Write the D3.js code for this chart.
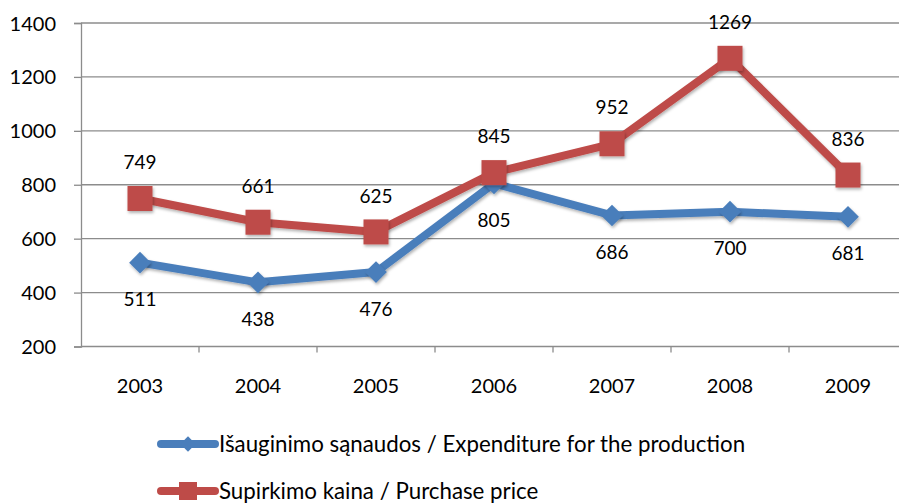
<!DOCTYPE html>
<html>
<head>
<meta charset="utf-8">
<script src="https://cdn.jsdelivr.net/npm/d3@7"></script>
<style>
  body { margin: 0; background: #fff; }
  text { font-family: Lato, "Open Sans", sans-serif; fill: #000; }
</style>
</head>
<body>
<svg id="chart"></svg>
<script>
((() => {

  // chart data
  var years = ["2003", "2004", "2005", "2006", "2007", "2008", "2009"];
  var expenditure = [511, 438, 476, 805, 686, 700, 681];
  var purchase = [749, 661, 625, 845, 952, 1269, 836];
  var yTicks = [200, 400, 600, 800, 1000, 1200, 1400];
  var seriesNames = ["Išauginimo sąnaudos / Expenditure for the production", "Supirkimo kaina / Purchase price"];

  var width = 899, height = 503;
  var left = 81, right = 907, top = 23, bottom = 346.5;

  var svg = d3.select("#chart").attr("width", width).attr("height", height);

  var x = d3.scaleBand().domain(years).range([left, right]);
  var y = d3.scaleLinear().domain([200, 1400]).range([bottom, top]);

  var axisColor = "#8c8c8c";

  // gridlines
  svg.append("g")
    .selectAll("line")
    .data(yTicks.slice(1))
    .enter()
    .append("line")
    .attr("x1", left).attr("x2", width)
    .attr("y1", d => y(d)).attr("y2", d => y(d))
    .attr("stroke", axisColor).attr("stroke-width", 1.3);

  // y axis
  var yAxis = svg.append("g")
    .attr("transform", "translate(" + left + ",0)")
    .call(d3.axisLeft(y).tickValues(yTicks).tickFormat(d3.format("d")).tickSize(7).tickPadding(18));
  yAxis.select(".domain").attr("stroke", axisColor).attr("stroke-width", 1.3);
  yAxis.selectAll(".tick line").attr("stroke", axisColor).attr("stroke-width", 1.3);
  yAxis.selectAll("text").style("font-size", "20px").attr("dy", "0.35em");

  // x axis
  var xAxis = svg.append("g")
    .attr("transform", "translate(0," + bottom + ")")
    .call(d3.axisBottom(x).tickSize(0).tickPadding(32));
  xAxis.select(".domain").remove();
  xAxis.selectAll("text").style("font-size", "20px");
  xAxis.append("line")
    .attr("x1", left).attr("x2", width).attr("y1", 0).attr("y2", 0)
    .attr("stroke", axisColor).attr("stroke-width", 1.3);
  xAxis.selectAll(".sep")
    .data(years.slice(1))
    .enter()
    .append("line")
    .attr("x1", d => x(d)).attr("x2", d => x(d))
    .attr("y1", 0).attr("y2", 6)
    .attr("stroke", axisColor).attr("stroke-width", 1.3);

  var cx = d => x(d) + x.bandwidth() / 2;

  var line = d3.line()
    .x((d, i) => cx(years[i]))
    .y(d => y(d));

  var defs = svg.append("defs");
  var filter = defs.append("filter").attr("id", "shadow")
    .attr("x", "-50%").attr("y", "-50%").attr("width", "200%").attr("height", "200%");
  filter.append("feDropShadow")
    .attr("dx", 1).attr("dy", 2).attr("stdDeviation", 1.5)
    .attr("flood-color", "#000").attr("flood-opacity", 0.3);

  var blue = "#4a7ebb", red = "#be4b48";

  // blue series
  svg.append("path")
    .datum(expenditure)
    .attr("d", line)
    .attr("fill", "none")
    .attr("stroke", blue)
    .attr("stroke-width", 8)
    .attr("stroke-linejoin", "round")
    .attr("filter", "url(#shadow)");

  svg.append("g")
    .selectAll("path")
    .data(expenditure)
    .enter()
    .append("path")
    .attr("d", d3.symbol().type(d3.symbolDiamond2).size(300))
    .attr("transform", (d, i) => "translate(" + cx(years[i]) + "," + y(d) + ")")
    .attr("fill", blue)
    .attr("filter", "url(#shadow)");

  // red series
  svg.append("path")
    .datum(purchase)
    .attr("d", line)
    .attr("fill", "none")
    .attr("stroke", red)
    .attr("stroke-width", 8)
    .attr("stroke-linejoin", "round")
    .attr("filter", "url(#shadow)");

  svg.append("g")
    .selectAll("rect")
    .data(purchase)
    .enter()
    .append("rect")
    .attr("x", (d, i) => cx(years[i]) - 12.5)
    .attr("y", d => y(d) - 12.5)
    .attr("width", 25).attr("height", 25)
    .attr("fill", red)
    .attr("filter", "url(#shadow)");

  // data labels
  svg.append("g")
    .selectAll("text")
    .data(expenditure)
    .enter()
    .append("text")
    .attr("x", (d, i) => cx(years[i]))
    .attr("y", d => y(d) + 37)
    .attr("dy", "0.35em")
    .attr("text-anchor", "middle")
    .style("font-size", "19px")
    .text(d => d);

  svg.append("g")
    .selectAll("text")
    .data(purchase)
    .enter()
    .append("text")
    .attr("x", (d, i) => cx(years[i]))
    .attr("y", d => y(d) - 36)
    .attr("dy", "0.35em")
    .attr("text-anchor", "middle")
    .style("font-size", "19px")
    .text(d => d);

  // legend
  var legend = svg.append("g");
  var legendY = [444, 491];
  var colors = [blue, red];

  legend.selectAll("line")
    .data(seriesNames)
    .enter()
    .append("line")
    .attr("x1", 161).attr("x2", 215)
    .attr("y1", (d, i) => legendY[i]).attr("y2", (d, i) => legendY[i])
    .attr("stroke", (d, i) => colors[i])
    .attr("stroke-width", 8)
    .attr("stroke-linecap", "round");

  legend.append("path")
    .attr("d", d3.symbol().type(d3.symbolDiamond2).size(150))
    .attr("transform", "translate(188," + legendY[0] + ")")
    .attr("fill", blue);
  legend.append("rect")
    .attr("x", 179).attr("y", legendY[1] - 9)
    .attr("width", 18).attr("height", 18)
    .attr("fill", red);

  legend.selectAll("text")
    .data(seriesNames)
    .enter()
    .append("text")
    .attr("x", 219)
    .attr("y", (d, i) => legendY[i])
    .attr("dy", "0.35em")
    .style("font-size", "22.3px")
    .text(d => d);

})());
</script>
</body>
</html>
